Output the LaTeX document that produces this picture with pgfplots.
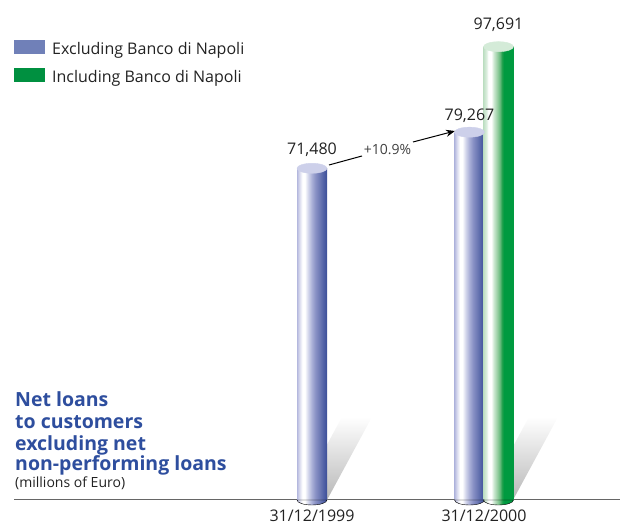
\documentclass[border=0pt]{standalone}
\usepackage{pgfplots}
\pgfplotsset{compat=1.18}
\usepackage{fontspec}
\setmainfont{Open Sans}
\usetikzlibrary{arrows.meta}

\definecolor{legblue}{HTML}{7080B8}
\definecolor{leggreen}{HTML}{009040}
\definecolor{titleblue}{HTML}{2E4E9E}
\definecolor{txt}{HTML}{222222}
\definecolor{axisgray}{HTML}{666666}
\definecolor{topB}{HTML}{CDD0EA}
\definecolor{topG}{HTML}{D4EBD8}
\definecolor{bA}{HTML}{B4B8DE}
\definecolor{bB}{HTML}{D8DAEE}
\definecolor{bC}{HTML}{D0D3EA}
\definecolor{bD}{HTML}{A8AED6}
\definecolor{bE}{HTML}{8890C4}
\definecolor{bF}{HTML}{6C78B4}
\definecolor{bG}{HTML}{5262A6}
\definecolor{bH}{HTML}{3C4E98}
\definecolor{gA}{HTML}{BFE0C4}
\definecolor{gB}{HTML}{DDEFE0}
\definecolor{gC}{HTML}{CDE8D2}
\definecolor{gD}{HTML}{A0D2AA}
\definecolor{gE}{HTML}{6CBC80}
\definecolor{gF}{HTML}{20A04C}
\definecolor{gG}{HTML}{009A40}

\pgfdeclarehorizontalshading{cylblue}{100bp}{color(0bp)=(bA); color(25bp)=(bA); color(29bp)=(bB); color(34bp)=(white); color(38bp)=(white); color(44bp)=(bC); color(50bp)=(bD); color(56bp)=(bE); color(63bp)=(bF); color(69bp)=(bG); color(75bp)=(bH); color(100bp)=(bH)}
\pgfdeclarehorizontalshading{cylgreen}{100bp}{color(0bp)=(gA); color(25bp)=(gA); color(30bp)=(gB); color(33bp)=(white); color(38bp)=(white); color(42bp)=(gC); color(47bp)=(gD); color(52bp)=(gE); color(56bp)=(gF); color(59bp)=(gG); color(75bp)=(gG); color(100bp)=(gG)}

\pgfdeclareplotmark{topblue}{\fill[topB] (0pt,0pt) ellipse [x radius=15pt, y radius=5pt];}
\pgfdeclareplotmark{topgreen}{\fill[topG] (0pt,0pt) ellipse [x radius=15pt, y radius=5pt];}
\pgfdeclareplotmark{botblue}{\shade[shading=cylblue] (-15pt,0pt) arc[start angle=180,end angle=360,x radius=15pt,y radius=5pt] -- cycle;}
\pgfdeclareplotmark{botgreen}{\shade[shading=cylgreen] (-15pt,0pt) arc[start angle=180,end angle=360,x radius=15pt,y radius=5pt] -- cycle;}

\begin{document}
\begin{tikzpicture}
\begin{axis}[
  at={(14pt,26pt)}, anchor=south west,
  scale only axis, width=606pt, height=500pt,
  xmin=14, xmax=620, ymin=0, ymax=107750,
  axis x line=bottom, axis y line=none,
  axis line style={-, draw=axisgray, line width=1pt},
  xtick={312,484}, xticklabels={31/12/1999,31/12/2000},
  ytick=\empty, major tick length=0pt,
  xticklabel style={font=\fontsize{16}{19}\selectfont, text=txt, anchor=base, yshift=-21.5pt, inner sep=0pt},
  clip=false,
  legend style={at={(0,0.92)}, anchor=north west, draw=none, fill=none, inner sep=0pt,
    row sep=12pt, font=\fontsize{16}{19}\selectfont, text=txt, nodes={inner sep=0pt}},
  legend cell align=left,
]
\addlegendimage{legend image code/.code={\fill[legblue, draw=none] (0pt,-5pt) rectangle (31pt,9pt); \path[draw=none, fill=none] (0pt,0pt) rectangle (38pt,0.1pt);}}
\addlegendentry{Excluding Banco di Napoli}
\addlegendimage{legend image code/.code={\fill[leggreen, draw=none] (0pt,-5pt) rectangle (31pt,9pt); \path[draw=none, fill=none] (0pt,0pt) rectangle (38pt,0.1pt);}}
\addlegendentry{Including Banco di Napoli}

% shadows
\addplot[draw=none, top color=white, bottom color=black!28, forget plot] coordinates {(297,0) (327,0) (372,17900) (342,17900)} -- cycle;
\addplot[draw=none, top color=white, bottom color=black!28, forget plot] coordinates {(484,0) (513,0) (558,17900) (529,17900)} -- cycle;

% bottom caps
\addplot[only marks, mark=botblue, forget plot] coordinates {(312,0) (469.5,0)};
\addplot[only marks, mark=botgreen, forget plot] coordinates {(498.5,0)};

% bars
\addplot[ybar, bar width=30pt, bar shift=0pt, draw=none, shade, shading=cylblue, forget plot,
  nodes near coords, nodes near coords style={anchor=base, yshift=14pt, text=txt, font=\fontsize{16}{19}\selectfont, /pgf/number format/.cd, 1000 sep={,}, assume math mode=true}]
  coordinates {(312,71480)};
\addplot[ybar, bar width=30pt, bar shift=0pt, draw=none, shade, shading=cylblue, forget plot,
  nodes near coords, nodes near coords style={anchor=base, yshift=12pt, text=txt, font=\fontsize{16}{19}\selectfont, /pgf/number format/.cd, 1000 sep={,}, assume math mode=true}]
  coordinates {(469.5,79267)};
\addplot[ybar, bar width=30pt, bar shift=0pt, draw=none, shade, shading=cylgreen, forget plot,
  nodes near coords, nodes near coords style={anchor=base, yshift=17pt, text=txt, font=\fontsize{16}{19}\selectfont, /pgf/number format/.cd, 1000 sep={,}, assume math mode=true}]
  coordinates {(498.5,97691)};

% top caps
\addplot[only marks, mark=topblue, forget plot] coordinates {(312,71480) (469.5,79267)};
\addplot[only marks, mark=topgreen, forget plot] coordinates {(498.5,97691)};

% growth arrow
\draw[line width=1pt, black] (axis cs:329,72192) -- (axis cs:362,74132);
\draw[line width=1pt, black, -{Stealth[length=9pt,width=7pt]}] (axis cs:413,77149) -- (axis cs:455,79520);
\node[anchor=base, inner sep=0pt, text=black!75, font=\fontsize{14}{17}\selectfont] at (axis cs:387.5,74348) {+10.9\%};
\end{axis}

% title block
\begin{scope}[every node/.style={anchor=base west, inner sep=0pt, text=titleblue, font=\fontsize{19.5}{22}\selectfont\bfseries}]
\node at (15pt,119pt) {Net loans};
\node at (15pt,97pt) {to customers};
\node at (15pt,75pt) {excluding net};
\node at (15pt,55pt) {non-performing loans};
\end{scope}
\node[anchor=base west, inner sep=0pt, text=txt, font=\fontsize{14}{17}\selectfont] at (15pt,38.5pt) {(millions of Euro)};

\pgfresetboundingbox
\path (0pt,0pt) rectangle (620pt,526pt);
\end{tikzpicture}
\end{document}
